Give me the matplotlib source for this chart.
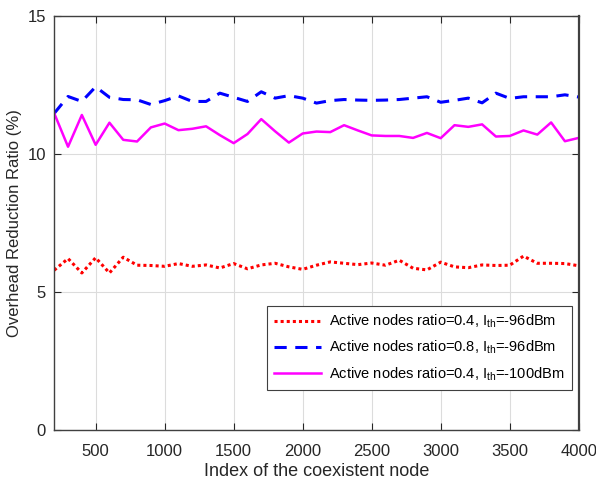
import numpy as np
import matplotlib
matplotlib.use("Agg")
import matplotlib.pyplot as plt

plt.rcParams["font.family"] = ["Liberation Sans", "DejaVu Sans"]
plt.rcParams["mathtext.fontset"] = "custom"
plt.rcParams["mathtext.rm"] = "Liberation Sans"
plt.rcParams["mathtext.it"] = "Liberation Sans"

# node index (x axis)
nodes = list(range(200, 4001, 100))

# ratio=0.4, Ith=-96dBm
red_04_96 = [5.79, 6.21, 5.69, 6.24, 5.69, 6.26, 5.97, 5.96, 5.93, 6.03,
             5.93, 5.98, 5.87, 6.03, 5.84, 5.98, 6.04, 5.91, 5.82, 5.97,
             6.09, 6.04, 5.99, 6.05, 5.97, 6.15, 5.86, 5.80, 6.08, 5.91,
             5.88, 5.98, 5.96, 5.97, 6.30, 6.04, 6.04, 6.03, 5.95]
# ratio=0.8, Ith=-96dBm
blue_08_96 = [11.47, 12.08, 11.90, 12.43, 12.05, 11.97, 11.96, 11.79, 11.93, 12.10,
              11.90, 11.90, 12.20, 12.05, 11.90, 12.25, 12.02, 12.11, 12.02, 11.84,
              11.93, 11.97, 11.95, 11.94, 11.95, 11.97, 12.02, 12.07, 11.87, 11.94,
              12.02, 11.85, 12.20, 12.01, 12.07, 12.07, 12.07, 12.14, 12.06]
# ratio=0.4, Ith=-100dBm
mag_04_100 = [11.47, 10.26, 11.41, 10.33, 11.13, 10.51, 10.45, 10.96, 11.10, 10.86,
              10.91, 11.00, 10.68, 10.39, 10.72, 11.26, 10.82, 10.41, 10.74, 10.81,
              10.79, 11.04, 10.85, 10.67, 10.65, 10.65, 10.58, 10.76, 10.57, 11.04,
              10.98, 11.07, 10.63, 10.65, 10.85, 10.70, 11.14, 10.46, 10.58]

labels = [r"Active nodes ratio=0.4, I$_{\mathrm{th}}$=-96dBm",
          r"Active nodes ratio=0.8, I$_{\mathrm{th}}$=-96dBm",
          r"Active nodes ratio=0.4, I$_{\mathrm{th}}$=-100dBm"]

fig = plt.figure(figsize=(5.96, 4.8), dpi=100)
ax = fig.add_axes([0.091, 0.104, 0.88, 0.863])

ax.plot(nodes, red_04_96, color="red", ls=(0, (1, 1)), lw=2.2, label=labels[0])
ax.plot(nodes, blue_08_96, color="blue", ls=(0, (4, 2.8)), lw=2.2, label=labels[1])
ax.plot(nodes, mag_04_100, color="magenta", ls="-", lw=1.8, label=labels[2])

ax.set_xlim(200, 4000)
ax.set_ylim(0, 15)
ax.set_xticks(range(500, 4001, 500))
ax.set_yticks([0, 5, 10, 15])
ax.grid(True, color="#dcdcdc", lw=0.8)
ax.tick_params(direction="in", top=True, right=True, labelsize=12,
               colors="#262626", length=5)
ax.tick_params(axis="x", pad=10)
ax.tick_params(axis="y", pad=6)
for s in ax.spines.values():
    s.set_color("#404040")
    s.set_linewidth(1.0)
ax.spines["right"].set_linewidth(1.6)

ax.set_xlabel("Index of the coexistent node", fontsize=13, color="#262626",
              labelpad=3)
ax.set_ylabel("Overhead Reduction Ratio (%)", fontsize=12, color="#262626")

leg = ax.legend(loc="lower right", bbox_to_anchor=(0.987, 0.097), fontsize=10.5,
                fancybox=False, framealpha=1, edgecolor="#404040",
                handlelength=3.2, borderpad=0.5, labelspacing=0.6,
                handletextpad=0.6, borderaxespad=0)
leg.get_frame().set_linewidth(0.8)

fig.savefig("out.png", dpi=100)
